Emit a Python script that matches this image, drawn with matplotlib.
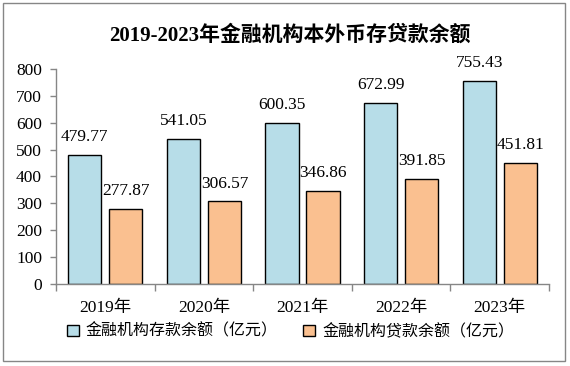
import numpy as np
import matplotlib
matplotlib.use('Agg')
import matplotlib.pyplot as plt
from matplotlib.patches import Rectangle, Patch

plt.rcParams['font.family'] = ['Liberation Serif', 'Noto Sans CJK SC']

years = ['2019年', '2020年', '2021年', '2022年', '2023年']
deposits = [479.77, 541.05, 600.35, 672.99, 755.43]
loans = [277.87, 306.57, 346.86, 391.85, 451.81]
series_names = ['金融机构存款余额（亿元）', '金融机构贷款余额（亿元）']
title = '2019-2023年金融机构本外币存贷款余额'

BLUE = '#B7DDE8'
ORANGE = '#FAC090'
GREY = '#868686'

fig = plt.figure(figsize=(5.7, 3.66), dpi=100)
ax = fig.add_axes([0.0982, 0.2254, 0.8650, 0.5850])

x = np.arange(len(years))
off = 0.208
w = 0.335
b1 = ax.bar(x - off, deposits, w, color=BLUE, edgecolor='black', linewidth=1)
b2 = ax.bar(x + off, loans, w, color=ORANGE, edgecolor='black', linewidth=1)

for bars, vals in [(b1, deposits), (b2, loans)]:
	for r, v in zip(bars, vals):
		ax.annotate('%.2f' % v, (r.get_x() + r.get_width() / 2, v),
			xytext=(0, 10), textcoords='offset points',
			ha='center', va='baseline', fontsize=12.5)

ax.set_xlim(-0.5, len(years) - 0.5)
ax.set_ylim(0, 800)
ax.set_yticks(range(0, 801, 100))
ax.set_xticks(x)
ax.set_xticklabels(years, fontsize=12.5)
ax.set_xticks(np.arange(-0.5, len(years), 1), minor=True)
ax.tick_params(axis='x', which='major', length=0, pad=12)
ax.tick_params(axis='x', which='minor', length=5, color=GREY, width=1)
ax.tick_params(axis='y', length=4, color=GREY, width=1, labelsize=12.5, pad=6)

for s in ['top', 'right']:
	ax.spines[s].set_visible(False)
for s in ['left', 'bottom']:
	ax.spines[s].set_color(GREY)
	ax.spines[s].set_linewidth(1)

fig.text(0.509, 0.904, title, ha='center', va='center', fontsize=15, fontweight='bold')

handles = [Patch(facecolor=BLUE, edgecolor='black', linewidth=1),
	Patch(facecolor=ORANGE, edgecolor='black', linewidth=1)]
fig.legend(handles, series_names, loc='center', bbox_to_anchor=(0.51, 0.093), ncol=2,
	frameon=False, fontsize=11.5, handlelength=0.75, handleheight=0.75,
	handletextpad=0.45, columnspacing=1.6, borderaxespad=0)

fig.patches.append(Rectangle((2.7 / 570, 1 - 360.7 / 366), 562.6 / 570, 357.7 / 366,
	transform=fig.transFigure, fill=False, edgecolor=GREY, linewidth=1))

fig.savefig('out.png', dpi=100)
